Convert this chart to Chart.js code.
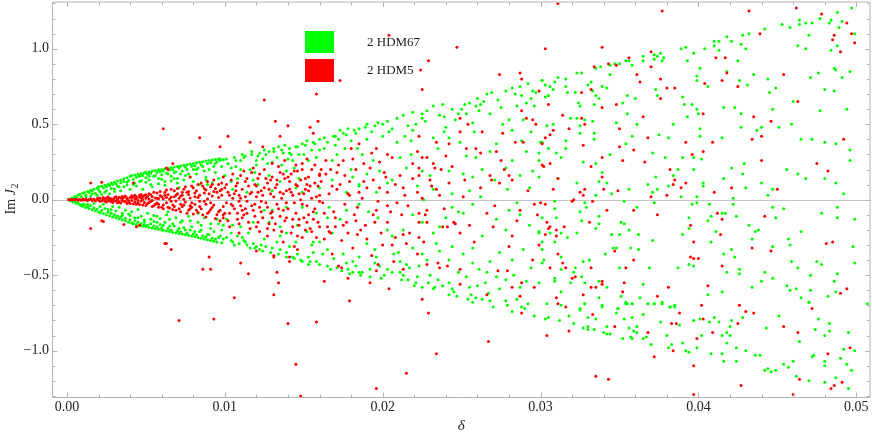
<!DOCTYPE html>
<html><head><meta charset="utf-8">
<script src="https://cdn.jsdelivr.net/npm/chart.js@4.4.0/dist/chart.umd.min.js"></script>
<style>html,body{margin:0;padding:0;background:#fff;}canvas{display:block}</style>
</head><body>
<canvas id="c" width="872" height="436"></canvas>
<script>
const seriesNames = ['2 HDM67', '2 HDM5'];
const xTickValues = [0, 0.01, 0.02, 0.03, 0.04, 0.05];
const xTickLabels = ['0.00', '0.01', '0.02', '0.03', '0.04', '0.05'];
const yTickValues = [-1, -0.5, 0, 0.5, 1];
const yTickLabels = ['\u22121.0', '\u22120.5', '0.0', '0.5', '1.0'];
const xTitle = '\u03b4';
const yTitleParts = ['Im ', 'J', '2'];

// 2 HDM67 (green), delta < 0.01
const greenInner = [
[0.0001,0.003],[0.0002,-0.007],[0.0003,0.012],[0.0003,-0.004],[0.0004,-0.016],[0.0004,0.008],[0.0005,0.021],[0.0005,-0.011],[0.0006,-0.024],[0.0006,0.015],[0.0007,0.029],[0.0007,-0.019],[0.0008,-0.033],[0.0008,0.036],[0.0009,0.022],[0.0009,-0.038],[0.001,0.042],[0.001,-0.028],[0.001,-0.044],
[0.0011,0.047],[0.0011,-0.035],[0.0012,-0.051],[0.0012,0.031],[0.0013,0.055],[0.0013,-0.045],[0.0014,-0.058],[0.0014,0.048],[0.0015,0.062],[0.0015,-0.039],[0.0015,0.025],[0.0016,-0.066],[0.0016,0.057],[0.0017,0.07],[0.0017,-0.054],[0.0018,-0.074],[0.0018,0.042],[0.0019,0.078],[0.0019,-0.062],[0.002,-0.082],[0.002,0.066],[0.002,0.085],
[0.0021,-0.087],[0.0021,0.052],[0.0022,0.089],[0.0022,-0.07],[0.0023,-0.092],[0.0023,0.077],[0.0024,0.095],[0.0024,-0.058],[0.0025,-0.1],[0.0025,0.085],[0.0025,0.06],[0.0026,0.103],[0.0026,-0.083],[0.0027,-0.106],[0.0027,0.094],[0.0028,0.11],[0.0028,-0.09],[0.0028,-0.066],[0.0029,0.1],[0.0029,-0.115],[0.003,0.118],[0.003,-0.1],[0.003,0.072],
[0.0031,-0.12],[0.0031,0.105],[0.0032,0.124],[0.0032,-0.108],[0.0033,-0.127],[0.0033,0.085],[0.0034,0.13],[0.0034,-0.116],[0.0034,0.112],[0.0035,-0.135],[0.0035,-0.09],[0.0036,0.138],[0.0036,0.12],[0.0037,-0.14],[0.0037,-0.123],[0.0038,0.145],[0.0038,0.098],[0.0039,-0.15],[0.0039,0.128],[0.004,0.155],[0.004,-0.133],[0.004,-0.105],
[0.0041,0.16],[0.0041,-0.155],[0.0042,0.135],[0.0042,-0.16],[0.0043,0.163],[0.0043,-0.14],[0.0043,0.11],[0.0044,-0.165],[0.0044,0.148],[0.0045,0.168],[0.0045,-0.15],[0.0045,-0.12],[0.0046,0.155],[0.0046,-0.172],[0.0047,0.172],[0.0047,-0.158],[0.0047,0.125],[0.0048,-0.176],[0.0048,0.16],[0.0049,0.178],[0.0049,-0.165],[0.0049,-0.135],[0.005,0.182],[0.005,-0.18],[0.005,0.145],
[0.0051,-0.17],[0.0051,0.168],[0.0052,0.186],[0.0052,-0.184],[0.0052,0.13],[0.0053,-0.16],[0.0053,0.175],[0.0054,0.19],[0.0054,-0.188],[0.0055,0.155],[0.0055,-0.175],[0.0055,-0.145],[0.0056,0.194],[0.0056,-0.192],[0.0057,0.18],[0.0057,-0.18],[0.0058,0.198],[0.0058,-0.196],[0.0058,0.14],[0.0059,-0.165],[0.0059,0.186],[0.006,0.2],[0.006,-0.2],[0.006,0.165],[0.006,-0.185],
[0.0061,0.19],[0.0061,-0.203],[0.0062,0.205],[0.0062,-0.15],[0.0063,-0.207],[0.0063,0.175],[0.0064,0.208],[0.0064,-0.19],[0.0065,0.196],[0.0065,-0.211],[0.0066,0.212],[0.0066,-0.2],[0.0066,0.155],[0.0067,-0.215],[0.0067,0.2],[0.0068,0.216],[0.0068,-0.175],[0.0069,-0.22],[0.0069,0.185],[0.007,0.22],[0.007,-0.205],[0.007,0.14],
[0.0071,-0.224],[0.0071,0.21],[0.0072,0.224],[0.0072,-0.212],[0.0073,-0.228],[0.0073,0.19],[0.0074,0.228],[0.0074,-0.185],[0.0075,-0.232],[0.0075,0.215],[0.0076,0.232],[0.0076,-0.22],[0.0077,-0.236],[0.0077,0.17],[0.0078,0.236],[0.0078,-0.2],[0.0079,-0.24],[0.0079,0.222],[0.008,0.24],[0.008,-0.228],[0.008,0.2],
[0.0081,-0.245],[0.0081,0.225],[0.0082,0.244],[0.0082,-0.232],[0.0083,-0.25],[0.0083,0.21],[0.0084,0.248],[0.0084,-0.21],[0.0085,-0.255],[0.0085,0.232],[0.0086,0.252],[0.0086,-0.24],[0.0087,-0.26],[0.0087,0.19],[0.0088,0.256],[0.0088,-0.245],[0.0089,-0.265],[0.0089,0.24],[0.009,0.26],[0.009,-0.23],[0.0091,-0.27],[0.0091,0.245],[0.0092,0.263],[0.0092,-0.255],[0.0093,-0.275],[0.0093,0.22],[0.0094,0.266],[0.0094,-0.26],[0.0095,-0.28],[0.0095,0.25],[0.0096,0.27],[0.0096,-0.25],
[0.0053,0.1],[0.0057,-0.11],[0.0062,0.12],[0.0065,-0.13],[0.0068,0.14],[0.0072,-0.15],[0.0075,0.16],[0.0078,-0.14],[0.0082,0.17],[0.0085,-0.17],[0.0088,0.15],[0.0091,-0.19],[0.0094,0.18],[0.0096,-0.16],[0.0064,-0.08],[0.0071,0.08],[0.0083,-0.09],[0.0089,0.1]
];

// 2 HDM67 (green), interior of the cone, delta < 0.01
const greenFill = [
[0.0012,0.02],[0.0013,-0.03],[0.0016,0.04],[0.0017,-0.025],[0.0019,0.03],[0.0021,-0.045],[0.0022,0.035],[0.0023,-0.03],[0.0024,0.05],[0.0026,-0.065],[0.0027,0.04],[0.0028,0.075],[0.0029,-0.045],[0.003,0.055],[0.0031,-0.075],[0.0032,0.09],[0.0033,-0.05],[0.0034,0.06],[0.0035,-0.105],[0.0036,0.085],[0.0037,-0.07],[0.0038,0.115],[0.0039,-0.095],[0.004,0.07],[0.0041,-0.08],[0.0042,0.1],[0.0043,-0.12],[0.0044,0.09],[0.0045,-0.065],[0.0046,0.12],[0.0047,-0.11],[0.0048,0.07],[0.0049,-0.145],[0.005,0.115],[0.0051,-0.09],[0.0052,0.155],[0.0053,-0.13],[0.0054,0.085],[0.0055,-0.105],[0.0056,0.16],[0.0057,-0.15],[0.0058,0.105],[0.0059,-0.125],[0.006,0.135],[0.0061,-0.17],[0.0062,0.095],[0.0063,-0.1],[0.0064,0.17],[0.0065,-0.175],[0.0066,0.125],[0.0067,-0.16],[0.0068,0.18],[0.0069,-0.12],[0.007,0.11],[0.0071,-0.19],[0.0072,0.17],[0.0073,-0.14],[0.0074,0.13],[0.0075,-0.2],[0.0076,0.2],[0.0077,-0.11],[0.0078,0.15],[0.0079,-0.18],[0.008,0.12],[0.0081,-0.21],[0.0082,0.2],[0.0083,-0.15],[0.0084,0.1],[0.0085,-0.2],[0.0086,0.22],[0.0087,-0.12],[0.0088,0.13],[0.0089,-0.23],[0.009,0.2],[0.0091,-0.16],[0.0092,0.11],[0.0093,-0.21],[0.0094,0.24],[0.0095,-0.13],[0.0096,0.14],[0.0097,-0.24],[0.0098,0.22],[0.0099,-0.17],[0.0097,0.27],[0.0098,-0.285],[0.0099,0.265]
];

// 2 HDM67 (green), 0.01 <= delta < 0.03
const greenMid = [
[0.0301,0.79],[0.0287,0.75],[0.0292,0.77],[0.0282,0.74],[0.0278,0.72],[0.0288,0.69],[0.0294,0.67],[0.0291,0.64],[0.0296,0.62],[0.0269,0.71],[0.0266,0.7],[0.026,0.67],[0.0255,0.64],[0.0259,0.62],[0.0261,0.59],[0.0252,0.63],[0.0244,0.6],[0.0248,0.57],[0.0238,0.63],[0.0232,0.62],[0.0228,0.59],[0.0225,0.57],[0.0225,0.54],[0.0219,0.58],[0.0213,0.56],[0.0209,0.54],[0.0203,0.52],[0.0197,0.51],[0.02,0.5],[0.019,0.5],[0.0185,0.47],[0.0178,0.47],[0.0183,0.44],[0.0175,0.44],[0.0173,0.46],[0.0172,0.4],[0.016,0.4],[0.0156,0.38],[0.0152,0.39],[0.0149,0.37],[0.0141,0.34],[0.0134,0.35],[0.0128,0.32],[0.0122,0.31],[0.0117,0.32],[0.0111,0.3],[0.0106,0.28],[0.0101,0.27],[0.0097,0.26],
[0.0209,0.38],[0.0214,0.42],[0.0218,0.39],[0.0232,0.41],[0.0235,0.34],[0.024,0.48],[0.0242,0.41],[0.0249,0.38],[0.0253,0.29],[0.0259,0.28],[0.0268,0.32],[0.0272,0.37],[0.0278,0.21],[0.0282,0.26],[0.0295,0.19],[0.0299,0.26],[0.0288,0.39],[0.0291,0.32],[0.0282,0.46],[0.0289,0.53],[0.028,0.53],[0.0275,0.61],[0.0268,0.57],[0.0257,0.51],[0.0253,0.57],[0.0219,0.46],[0.0211,0.28],[0.0215,0.21],[0.0225,0.19],[0.023,0.16],[0.0242,0.19],[0.0251,0.17],[0.0257,0.15],[0.0263,0.2],[0.0271,0.13],[0.0279,0.07],[0.0287,0.16],[0.0293,0.08],[0.0299,0.15],[0.0255,0.06],[0.0244,0.04],[0.0232,0.07],[0.0222,0.09],[0.0206,0.13],[0.0198,0.19],[0.0194,0.26],[0.0187,0.3],[0.0184,0.34],[0.018,0.39],[0.0176,0.34],[0.0171,0.3],[0.0168,0.26],[0.0163,0.34],[0.0158,0.28],[0.0153,0.26],[0.0147,0.3],[0.0143,0.26],[0.0137,0.31],[0.0133,0.28],[0.0127,0.24],[0.012,0.26],[0.0116,0.2],[0.011,0.26],[0.0104,0.21],[0.01,0.16],[0.0108,0.14],[0.0118,0.13],[0.0128,0.16],[0.0139,0.19],[0.0147,0.14],[0.016,0.08],[0.0168,0.13],[0.0181,0.15],[0.019,0.17],[0.0203,0.11],[0.0196,0.05],[0.0185,0.09],[0.0177,0.05],[0.0149,0.05],[0.013,0.06],[0.0114,0.05],
[0.0125,0.33],[0.0131,0.34],[0.0138,0.36],[0.0145,0.35],[0.0113,0.29],[0.0107,0.22],[0.0124,0.27],[0.0136,0.23],[0.0142,0.3],[0.0119,0.18],[0.0104,0.12],[0.0121,0.1],[0.0135,0.12],[0.0144,0.21],[0.0155,0.33],[0.0165,0.38],[0.0169,0.42],[0.0193,0.45],[0.0206,0.47],[0.0221,0.5],[0.0236,0.56],[0.0246,0.53],[0.0264,0.65],[0.0285,0.62],[0.0297,0.71],
[0.0099,-0.26],[0.0101,-0.25],[0.0105,-0.28],[0.0108,-0.24],[0.0111,-0.25],[0.0113,-0.28],[0.0116,-0.32],[0.012,-0.31],[0.0122,-0.33],[0.0123,-0.3],[0.013,-0.32],[0.0133,-0.28],[0.0139,-0.35],[0.0141,-0.31],[0.0143,-0.38],[0.0149,-0.41],[0.0153,-0.38],[0.0154,-0.41],[0.0158,-0.41],[0.0162,-0.36],[0.0165,-0.44],[0.0171,-0.45],[0.0177,-0.42],[0.0181,-0.41],[0.0178,-0.46],[0.0181,-0.48],[0.0185,-0.48],[0.0187,-0.48],[0.0192,-0.46],[0.0195,-0.42],[0.0198,-0.44],[0.0203,-0.46],[0.0206,-0.48],[0.0211,-0.48],[0.0213,-0.5],[0.0217,-0.45],[0.022,-0.57],[0.0225,-0.58],[0.0229,-0.55],[0.0232,-0.59],[0.0222,-0.51],[0.023,-0.5],[0.0235,-0.53],[0.0242,-0.55],[0.0244,-0.59],[0.0242,-0.63],[0.0247,-0.64],[0.0254,-0.66],[0.0259,-0.65],[0.0263,-0.66],[0.0257,-0.68],[0.027,-0.71],[0.0282,-0.74],[0.0288,-0.71],[0.0292,-0.69],[0.0296,-0.77],[0.0303,-0.79],[0.0278,-0.67],[0.0255,-0.58],[0.026,-0.57],[0.0253,-0.51],[0.0261,-0.46],[0.0266,-0.48],[0.0272,-0.51],[0.0278,-0.53],[0.0274,-0.59],[0.0287,-0.58],[0.0291,-0.54],[0.0299,-0.55],
[0.019,-0.29],[0.0196,-0.38],[0.0211,-0.41],[0.0215,-0.43],[0.021,-0.35],[0.0206,-0.24],[0.0203,-0.2],[0.0197,-0.12],[0.0191,-0.08],[0.0185,-0.03],[0.0177,-0.07],[0.0173,-0.13],[0.0168,-0.22],[0.016,-0.28],[0.0156,-0.28],[0.0152,-0.21],[0.0146,-0.17],[0.0139,-0.22],[0.0135,-0.18],[0.0128,-0.15],[0.0124,-0.12],[0.0118,-0.15],[0.011,-0.18],[0.0101,-0.13],[0.0098,-0.2],[0.0104,-0.22],[0.0166,-0.05],[0.0158,-0.09],[0.0149,-0.05],[0.0139,-0.05],[0.013,-0.07],[0.0219,-0.1],[0.0225,-0.15],[0.0232,-0.22],[0.0234,-0.29],[0.0236,-0.34],[0.0242,-0.4],[0.0225,-0.36],[0.0223,-0.44],[0.0219,-0.32],[0.0213,-0.2],[0.0244,-0.05],[0.0251,-0.09],[0.0257,-0.03],[0.0263,-0.24],[0.0257,-0.32],[0.0251,-0.36],[0.0244,-0.31],[0.0272,-0.13],[0.0278,-0.2],[0.028,-0.07],[0.0287,-0.1],[0.0293,-0.17],[0.0299,-0.22],[0.0301,-0.33],[0.0289,-0.33],[0.0282,-0.4],[0.0274,-0.35],[0.0268,-0.41],[0.0257,-0.42],[0.0294,-0.45],[0.0301,-0.42],[0.024,-0.12],[0.0236,-0.18],
[0.0106,-0.3],[0.0112,-0.27],[0.0118,-0.29],[0.0126,-0.31],[0.0135,-0.33],[0.0146,-0.36],[0.0156,-0.35],[0.0169,-0.39],[0.0183,-0.44],[0.0201,-0.5],[0.0216,-0.53],[0.0238,-0.57],[0.0267,-0.62],[0.0285,-0.66],[0.0305,-0.78],[0.0312,-0.8],[0.0318,-0.77],[0.0321,-0.82]
];

// 2 HDM67 (green), extra points along the cone edges, 0.01 <= delta < 0.03
const greenEdge = [
[0.0102,0.24],[0.0104,-0.27],[0.0107,0.26],[0.0109,-0.29],[0.0112,0.28],[0.0114,-0.3],[0.0117,0.3],[0.0119,-0.32],[0.0121,0.29],[0.0124,-0.34],[0.0126,0.3],[0.0129,-0.35],[0.0131,0.32],[0.0134,-0.36],[0.0136,0.33],[0.0139,-0.38],[0.0141,0.31],[0.0144,-0.39],[0.0146,0.35],[0.0148,-0.4],[0.0151,0.36],[0.0153,-0.43],[0.0157,0.37],[0.016,-0.43],[0.0163,0.41],[0.0167,-0.46],[0.017,0.42],[0.0174,-0.47],[0.0177,0.43],[0.0179,-0.49],[0.0182,0.46],[0.0186,-0.5],[0.0189,0.48],[0.0192,-0.51],[0.0195,0.49],[0.0199,-0.52],
[0.0105,-0.17],[0.011,0.2],[0.0115,-0.22],[0.012,0.23],[0.0125,-0.26],[0.013,0.25],[0.0135,-0.24],[0.014,0.27],[0.0145,-0.28],[0.015,0.3],[0.0155,-0.3],[0.016,0.33],[0.0165,-0.33],[0.017,0.36],[0.0175,-0.36],[0.018,0.2],[0.0185,-0.38],[0.019,0.4],[0.0195,-0.33],[0.02,0.42],[0.0105,0.07],[0.0125,-0.07],[0.0145,0.08],[0.0165,-0.12],[0.0185,0.1],
[0.0204,0.45],[0.0212,-0.53],[0.0216,0.49],[0.0221,-0.55],[0.0227,0.52],[0.0233,-0.58],[0.0239,0.55],[0.0245,-0.61],[0.025,0.6],[0.0256,-0.63],[0.0262,0.63],[0.0268,-0.67],[0.0273,0.66],[0.0279,-0.7],[0.0284,0.7],[0.029,-0.72],[0.0295,0.72],[0.0207,-0.36],[0.0218,0.3],[0.0228,-0.4],[0.0239,0.45],[0.0248,-0.48],[0.0258,0.45],[0.0265,-0.55],[0.0276,0.5],[0.0283,-0.5],[0.0294,0.45],[0.0226,0.0],[0.0248,-0.08],[0.0262,0.02],[0.0285,-0.02]
];

// 2 HDM67 (green), delta >= 0.03
const greenOuter = [
[0.0497,1.27],[0.0499,1.1],[0.0488,1.24],[0.0477,1.2],[0.0484,1.19],[0.0483,1.17],[0.0491,1.18],[0.0489,1.14],[0.0464,1.19],[0.0464,1.16],[0.0468,1.17],[0.0472,1.17],[0.0453,1.16],[0.0458,1.14],[0.047,1.09],[0.0463,1.02],[0.0468,1.0],[0.0484,0.99],[0.0488,1.02],[0.0486,0.87],[0.0487,0.86],[0.0496,0.85],[0.0491,0.81],[0.0476,0.84],[0.0471,0.81],[0.048,0.73],[0.0486,0.72],[0.046,0.65],[0.0477,0.59],[0.0494,0.6],
[0.0432,1.1],[0.0428,1.09],[0.0442,1.13],[0.0418,1.08],[0.0421,1.05],[0.041,1.05],[0.0413,1.05],[0.041,1.02],[0.0427,1.03],[0.043,1.0],[0.0413,0.99],[0.0404,1.0],[0.0397,0.97],[0.0389,1.0],[0.0392,1.01],[0.0393,0.92],[0.0425,0.92],[0.0401,0.87],[0.0418,0.85],[0.0399,0.82],[0.0399,0.79],[0.0406,0.75],[0.0426,0.79],[0.0431,0.76],[0.0435,0.83],[0.0444,0.8],[0.0449,0.74],[0.0445,0.71],
[0.0365,0.95],[0.0372,0.96],[0.0374,0.95],[0.0376,0.97],[0.0378,0.94],[0.0372,0.93],[0.0365,0.92],[0.0377,0.92],[0.0358,0.89],[0.0356,0.92],[0.0354,0.92],[0.035,0.9],[0.0347,0.9],[0.0344,0.89],[0.0335,0.87],[0.0338,0.88],[0.0326,0.84],[0.0323,0.84],[0.0316,0.8],[0.0311,0.81],[0.0309,0.78],[0.0301,0.79],[0.0303,0.76],[0.0306,0.75],[0.0308,0.73],[0.0316,0.75],[0.0322,0.71],[0.033,0.76],[0.0332,0.78],[0.0333,0.72],[0.0335,0.69],[0.0337,0.67],[0.0317,0.71],[0.0303,0.68],[0.0305,0.69],[0.0344,0.83],[0.0339,0.75],[0.0342,0.74],[0.0355,0.69],[0.036,0.67],[0.0352,0.64],[0.0324,0.64],[0.0325,0.62],[0.0334,0.63],
[0.0373,0.73],[0.0374,0.69],[0.0384,0.5],[0.039,0.68],[0.0391,0.63],[0.0396,0.63],[0.0399,0.6],[0.04,0.57],[0.0393,0.55],[0.0355,0.57],[0.0348,0.51],[0.0361,0.5],[0.0358,0.42],[0.0344,0.3],[0.0354,0.37],[0.0371,0.31],[0.0375,0.43],[0.0381,0.41],[0.0379,0.28],[0.039,0.28],[0.0397,0.28],[0.0402,0.27],[0.0401,0.47],[0.0401,0.42],[0.0415,0.41],[0.0416,0.61],[0.0423,0.61],[0.0427,0.57],[0.0427,0.48],[0.0437,0.46],[0.044,0.48],[0.0451,0.48],[0.0459,0.5],[0.0447,0.6],[0.0465,0.4],[0.0472,0.4],[0.048,0.38],[0.0487,0.37],[0.0496,0.33],[0.0496,0.26],[0.0456,0.2],[0.0463,0.17],[0.0468,0.14],[0.048,0.14],[0.0487,0.11],[0.0492,0.04],[0.044,0.11],[0.0447,0.07],[0.0444,0.03],[0.0429,0.24],[0.0428,0.17],[0.0421,0.21],[0.0416,0.14],[0.043,0.08],[0.0422,0.01],[0.0403,0.11],[0.0403,0.09],[0.0397,0.2],[0.0399,0.02],[0.0389,0.02],[0.0387,0.2],[0.0384,0.16],[0.0381,0.09],[0.0373,0.15],[0.0374,0.07],[0.0368,0.1],[0.0371,0.05],[0.0356,0.07],[0.0345,0.04],[0.0335,0.03],[0.0337,0.12],[0.0342,0.11],[0.0339,0.18],[0.0335,0.24],[0.0327,0.25],[0.0323,0.11],[0.0311,0.14],[0.0313,0.28],[0.031,0.31],[0.0308,0.5],[0.0304,0.49],[0.03,0.38],[0.0301,0.38],[0.0299,0.31],[0.0305,0.34],[0.0316,0.39],[0.0316,0.34],[0.0319,0.54],[0.0325,0.49],[0.0323,0.54],[0.0325,0.44],[0.0328,0.53],[0.0333,0.52],[0.0334,0.44],[0.0334,0.4],
[0.0309,-0.01],[0.0328,-0.02],[0.0329,-0.05],[0.0325,-0.08],[0.0309,-0.06],[0.0301,-0.12],[0.031,-0.12],[0.0326,-0.14],[0.0337,-0.11],[0.0337,-0.16],[0.0335,-0.19],[0.0323,-0.22],[0.0317,-0.25],[0.0313,-0.22],[0.0306,-0.22],[0.0299,-0.21],[0.0301,-0.28],[0.0309,-0.28],[0.0302,-0.4],[0.0313,-0.38],[0.0313,-0.46],[0.0321,-0.48],[0.0322,-0.45],[0.0327,-0.41],[0.0331,-0.4],[0.0326,-0.51],[0.0319,-0.55],[0.0309,-0.52],[0.0309,-0.54],[0.0313,-0.61],[0.0304,-0.69],[0.0313,-0.7],[0.0328,-0.55],[0.0328,-0.69],[0.0325,-0.72],[0.0337,-0.54],[0.0337,-0.65],[0.0342,-0.58],[0.0339,-0.7],[0.0341,-0.36],[0.0345,-0.23],[0.035,-0.23],[0.0351,-0.15],[0.0353,-0.16],[0.0356,-0.2],[0.0353,-0.01],[0.0361,-0.05],[0.0362,-0.23],[0.0357,-0.32],[0.0362,-0.33],[0.0346,-0.32],[0.0348,-0.32],[0.035,-0.45],[0.0369,-0.45],[0.0365,-0.56],[0.0351,-0.64],[0.0349,-0.72],[0.0354,-0.69],[0.0358,-0.69],[0.0363,-0.65],[0.0368,-0.69],[0.0372,-0.69],[0.0377,-0.69],[0.0382,-0.71],[0.0385,-0.71],[0.0371,-0.27],[0.0372,-0.02],[0.039,-0.23],[0.0394,-0.19],[0.0394,-0.12],[0.0396,-0.03],[0.0399,-0.02],[0.0407,-0.03],[0.0408,-0.11],[0.0406,-0.14],[0.0415,-0.09],[0.0417,-0.09],[0.0411,-0.21],[0.0408,-0.28],[0.0394,-0.43],[0.0397,-0.44],[0.0387,-0.45],[0.0416,-0.36],[0.0423,-0.38],[0.0421,-0.33],[0.0418,-0.48],[0.0426,-0.46],[0.0426,-0.49],[0.0415,-0.61],[0.0406,-0.63],[0.0424,-0.11],[0.0422,-0.03],[0.0432,-0.17],[0.0436,-0.21],[0.0438,-0.2],[0.0434,-0.26],[0.0447,-0.31],[0.0447,-0.05],[0.0449,-0.12],[0.0454,-0.06],[0.0457,-0.26],[0.0458,-0.3],[0.0434,-0.58],[0.044,-0.54],[0.0442,-0.48],[0.0447,-0.52],[0.0456,-0.57],[0.0458,-0.6],[0.0462,-0.59],[0.0459,-0.41],[0.0463,-0.45],[0.0465,-0.21],[0.0471,-0.5],[0.0471,-0.6],[0.0465,-0.65],[0.047,-0.68],[0.0475,-0.41],[0.0478,-0.43],[0.0478,-0.09],[0.0488,-0.05],[0.0488,-0.12],[0.0499,-0.13],[0.0498,-0.31],[0.0499,-0.42],[0.0488,-0.49],[0.0486,-0.54],[0.0487,-0.61],[0.0482,-0.64],[0.0507,-0.69],
[0.0325,-0.73],[0.0328,-0.69],[0.0339,-0.71],[0.033,-0.78],[0.0327,-0.85],[0.033,-0.84],[0.033,-0.86],[0.0334,-0.86],[0.0335,-0.79],[0.034,-0.88],[0.0342,-0.89],[0.0344,-0.89],[0.0342,-0.84],[0.0348,-0.75],[0.0349,-0.72],[0.0352,-0.92],[0.0353,-0.79],[0.0354,-0.68],[0.0355,-0.69],[0.0356,-0.85],[0.0357,-0.91],[0.0358,-0.92],[0.0358,-0.69],[0.0358,-0.78],[0.0359,-0.87],[0.0361,-0.84],[0.0361,-0.88],[0.0365,-0.76],[0.0365,-0.92],[0.0367,-0.91],[0.0368,-0.69],[0.037,-0.96],[0.0372,-0.69],[0.0376,-0.81],[0.0377,-0.68],[0.038,-0.9],[0.0381,-0.98],[0.0382,-0.71],[0.0383,-0.96],[0.0385,-0.7],[0.0388,-0.83],[0.039,-0.95],[0.0392,-1.0],[0.0394,-1.01],[0.0397,-0.8],[0.0399,-0.98],[0.0401,-0.79],[0.0402,-0.9],[0.0407,-0.81],[0.0408,-1.02],[0.041,-0.78],[0.0413,-0.81],[0.0415,-0.9],[0.0415,-1.02],[0.0416,-1.07],[0.0418,-0.95],[0.0418,-0.88],[0.042,-0.9],[0.042,-0.84],[0.0421,-0.8],[0.0424,-0.98],[0.0424,-1.07],[0.0428,-0.78],[0.043,-1.0],[0.0436,-1.03],[0.0439,-1.03],[0.0442,-1.13],[0.0444,-1.12],[0.0446,-1.14],[0.0443,-0.85],[0.0449,-1.13],[0.0451,-0.77],[0.0454,-1.09],[0.0457,-1.11],[0.046,-1.07],[0.0462,-1.17],[0.0464,-0.94],[0.047,-1.2],[0.047,-0.68],[0.0472,-1.04],[0.0473,-1.03],[0.0474,-0.86],[0.0476,-0.79],[0.048,-0.9],[0.048,-1.07],[0.048,-1.1],[0.048,-1.21],[0.0483,-0.82],[0.0483,-0.87],[0.0487,-1.18],[0.049,-1.05],[0.0492,-0.99],[0.0494,-1.09],[0.0495,-1.25],[0.0495,-0.88],[0.0497,-1.13],[0.0499,-1.0]
];

// 2 HDM5 (red), delta < 0.01
const redCore = [
[0.0001,0.0],[0.0002,0.001],[0.0003,-0.002],[0.0004,0.002],[0.0005,-0.001],[0.0006,0.003],[0.0007,-0.004],[0.0008,0.002],[0.0009,-0.003],[0.001,0.005],[0.0011,-0.002],[0.0012,0.004],[0.0013,-0.006],[0.0014,0.001],[0.0015,0.006],[0.0016,-0.005],[0.0017,0.003],[0.0018,-0.008],[0.0019,0.007],[0.002,-0.003],[0.0021,0.009],[0.0022,-0.007],[0.0023,0.004],[0.0024,-0.01],[0.0025,0.011],[0.0026,-0.004],[0.0027,0.008],[0.0028,-0.012],[0.0029,0.002],[0.003,0.013],[0.0031,-0.009],[0.0032,0.006],[0.0033,-0.014],[0.0034,0.012],[0.0035,-0.003],[0.0036,0.016],[0.0037,-0.012],[0.0038,0.005],[0.0039,-0.017],[0.004,0.014],[0.0041,-0.006],[0.0042,0.019],[0.0043,-0.016],[0.0044,0.008],[0.0045,-0.02],[0.0046,0.017],[0.0047,-0.009],[0.0048,0.022],[0.0049,-0.019],[0.005,0.01],
[0.0032,-0.02],[0.0035,0.022],[0.0038,-0.025],[0.0041,0.026],[0.0044,-0.03],[0.0046,0.03],[0.0048,-0.035],[0.005,0.033],[0.0051,-0.025],[0.0052,0.04],[0.0053,-0.012],[0.0054,0.02],[0.0055,-0.04],[0.0056,0.012],[0.0057,0.045],[0.0058,-0.03],[0.0059,0.028],[0.006,-0.05],[0.0061,0.006],[0.0062,0.05],[0.0063,-0.02],[0.0064,0.035],[0.0065,-0.055],[0.0066,0.018],[0.0067,-0.035],[0.0068,0.06],[0.0069,-0.008],[0.007,0.04],[0.0071,-0.06],[0.0072,0.025],[0.0073,-0.045],[0.0074,0.07],[0.0075,-0.015],[0.0076,0.05],[0.0077,-0.07],[0.0078,0.012],[0.0079,-0.05],[0.008,0.08],[0.0081,-0.03],[0.0082,0.06],[0.0083,-0.085],[0.0084,0.03],[0.0085,-0.06],[0.0086,0.09],[0.0087,-0.01],[0.0088,0.065],[0.0089,-0.09],[0.009,0.04],[0.0091,-0.065],[0.0092,0.1],[0.0093,-0.035],[0.0094,0.075],[0.0095,-0.1],[0.0096,0.015],[0.0097,-0.07],[0.0098,0.11],[0.0099,-0.045],[0.01,0.08],
[0.0054,-0.005],[0.0058,0.008],[0.0061,-0.035],[0.0066,-0.01],[0.0069,0.03],[0.0072,-0.03],[0.0074,0.003],[0.0077,0.035],[0.0079,-0.02],[0.0081,0.02],[0.0084,-0.045],[0.0087,0.045],[0.0089,0.005],[0.0091,-0.02],[0.0093,0.055],[0.0096,-0.08],[0.0098,0.03],[0.0099,-0.12],[0.0043,0.004],[0.0047,0.012],[0.0052,-0.018],[0.0057,-0.022],[0.0063,0.015],[0.0068,-0.045],[0.0073,0.05],[0.0078,-0.06],[0.0083,0.015],[0.0088,-0.03],[0.0092,0.025],[0.0097,0.06],
[0.0015,0.11],[0.0022,0.115],[0.0061,0.47],[0.0084,0.41],[0.0064,0.2],[0.0067,0.24],[0.0063,0.21],[0.0078,0.15],[0.0042,0.11],[0.0015,-0.19],[0.0023,-0.145],[0.0022,-0.14],[0.0036,-0.165],[0.0044,-0.18],[0.0046,-0.17],[0.0062,-0.29],[0.0063,-0.29],[0.0066,-0.33],[0.0071,-0.8],[0.0086,-0.46],[0.009,-0.38],[0.0091,-0.46],[0.0093,-0.79],[0.0097,0.35]
];

// 2 HDM5 (red), extra density in the band, delta <= 0.01
const redFill = [
[0.002,0.012],[0.0021,-0.011],[0.0023,0.015],[0.0024,0.003],[0.0025,-0.015],[0.0026,0.018],[0.0027,-0.008],[0.0028,0.006],[0.0029,-0.018],[0.003,-0.005],[0.0031,0.02],[0.0032,-0.001],[0.0033,0.017],[0.0034,-0.022],[0.0035,0.008],[0.0036,-0.01],[0.0037,0.024],[0.0038,0.012],[0.0039,-0.006],[0.004,-0.025],[0.0041,0.015],[0.0042,-0.028],[0.0043,0.03],[0.0044,0.018],[0.0045,-0.005],[0.0046,-0.032],[0.0047,0.035],[0.0048,0.002],[0.0049,0.028],[0.005,-0.038],[0.0051,0.022],[0.0052,0.004],[0.0053,0.032],[0.0054,-0.045],[0.0055,0.05],[0.0056,-0.03],[0.0057,0.01],[0.0058,-0.05],[0.0059,0.055],[0.006,0.02],[0.0061,-0.06],[0.0062,0.03],[0.0063,0.065],[0.0064,-0.05],[0.0065,0.005],[0.0066,0.07],[0.0067,-0.065],[0.0068,0.02],[0.0069,-0.07],[0.007,0.075],[0.0071,0.01],[0.0072,-0.08],[0.0073,0.03],[0.0074,-0.035],[0.0075,0.085],[0.0076,-0.09],[0.0077,0.055],[0.0078,-0.04],[0.0079,0.09],[0.008,-0.095],[0.0081,0.045],[0.0082,-0.07],[0.0083,0.1],[0.0084,-0.01],[0.0085,0.11],[0.0086,-0.1],[0.0087,0.075],[0.0088,-0.115],[0.0089,0.12],[0.009,-0.08],[0.0091,0.085],[0.0092,-0.05],[0.0093,0.13],[0.0094,-0.125],[0.0095,0.05],[0.0096,0.1],[0.0097,-0.14],[0.0098,0.07],[0.0099,0.15],[0.01,-0.09]
];

// 2 HDM5 (red), 0.01 <= delta < 0.03
const redMid = [
[0.0101,-0.02],[0.0102,0.05],[0.0103,-0.09],[0.0104,0.13],[0.0105,0.01],[0.0106,-0.06],[0.0107,0.09],[0.0108,-0.13],[0.0109,0.03],[0.011,0.16],[0.011,-0.04],[0.0111,0.07],[0.0112,-0.1],[0.0113,0.12],[0.0114,-0.01],[0.0115,-0.15],[0.0116,0.04],[0.0117,0.18],[0.0118,-0.07],[0.0119,0.1],[0.012,-0.18],[0.012,0.02],[0.0121,0.14],[0.0122,-0.05],[0.0123,0.06],[0.0124,-0.12],[0.0125,0.2],[0.0126,-0.02],[0.0127,0.11],[0.0128,-0.16],[0.0129,0.04],[0.013,0.15],[0.013,-0.08],[0.0131,-0.2],[0.0132,0.08],[0.0133,-0.03],[0.0134,0.22],[0.0135,-0.11],[0.0136,0.01],[0.0137,0.17],[0.0138,-0.14],[0.0139,0.06],[0.014,-0.06],[0.0141,0.12],[0.0142,-0.22],[0.0143,0.03],[0.0144,0.19],[0.0145,-0.09],[0.0146,0.09],[0.0147,-0.17],[0.0148,0.0],[0.0149,0.24],[0.015,-0.12],[0.0151,0.14],[0.0152,-0.04],[0.0153,0.06],[0.0154,-0.19],[0.0155,0.2],[0.0156,-0.08],[0.0157,0.11],[0.0158,0.02],[0.0159,-0.15],[0.016,0.17],
[0.0103,0.03],[0.0105,-0.04],[0.0107,0.06],[0.0109,-0.01],[0.0111,-0.07],[0.0113,0.02],[0.0115,0.09],[0.0117,-0.04],[0.0119,-0.11],[0.0121,0.05],[0.0123,-0.08],[0.0125,0.08],[0.0127,-0.05],[0.0129,0.13],[0.0131,0.02],[0.0133,0.1],[0.0135,0.05],[0.0137,-0.07],[0.0139,-0.02],[0.0141,0.07],[0.0143,-0.13],[0.0145,0.1],[0.0147,0.04],[0.0149,-0.03],[0.0151,0.07],[0.0153,-0.1],[0.0155,0.01],[0.0157,-0.06],[0.0159,0.09],
[0.0099,-0.1],[0.0108,-0.09],[0.0114,-0.09],[0.0103,-0.18],[0.0109,-0.22],[0.0122,-0.21],[0.0127,-0.24],[0.0137,-0.28],[0.0141,-0.38],[0.0131,-0.38],[0.0144,-0.31],[0.0146,-0.33],[0.0141,-0.41],[0.013,-0.12],[0.0147,-0.13],[0.0152,-0.15],[0.0149,-0.25],[0.016,-0.18],[0.0165,-0.18],[0.017,-0.18],[0.0167,-0.22],[0.0163,-0.26],[0.0155,-0.21],[0.0175,-0.17],[0.0178,-0.22],[0.0168,-0.36],[0.0172,-0.44],[0.0174,-0.45],[0.0184,-0.23],[0.0184,-0.05],[0.0182,-0.1],[0.0194,-0.1],[0.0196,-0.07],[0.0199,-0.22],[0.0197,-0.43],[0.0196,-0.47],[0.0193,-0.37],[0.0203,-0.04],[0.0209,-0.02],[0.0212,-0.1],[0.0223,-0.09],[0.0228,-0.07],[0.0227,-0.1],[0.0223,-0.15],[0.0228,-0.15],[0.0213,-0.23],[0.0217,-0.22],[0.0208,-0.25],[0.0206,-0.3],[0.0222,-0.36],[0.0223,-0.25],[0.0228,-0.43],[0.0235,-0.42],[0.0236,-0.45],[0.0238,-0.18],[0.0241,-0.18],[0.0245,-0.15],[0.0246,-0.16],[0.0249,-0.22],[0.0255,-0.17],[0.0266,-0.09],[0.027,-0.18],[0.028,-0.31],[0.0282,-0.24],[0.0287,-0.07],[0.0295,-0.4],[0.0296,-0.03],[0.0306,-0.18],[0.0279,-0.47],[0.0273,-0.47],[0.0249,-0.46],[0.0241,-0.44],[0.0288,-0.55],[0.0296,-0.58],[0.0282,-0.58],[0.0266,-0.63],[0.0287,-0.64],[0.0213,-0.46],[0.0207,-0.41],[0.0215,-0.29],[0.0203,-0.15],
[0.011,-0.42],[0.0115,-0.49],[0.0106,-0.65],[0.0131,-0.63],[0.0133,-0.48],[0.0134,-0.55],[0.014,-0.82],[0.0145,-1.09],[0.0131,-0.37],[0.012,-0.34],[0.0163,-0.54],[0.0179,-0.67],[0.0178,-0.52],[0.0192,-0.55],[0.0204,-0.59],[0.0225,-0.66],[0.0229,-0.75],[0.0267,-0.94],[0.0249,-0.56],[0.0288,-0.75],[0.0196,-1.25],[0.0215,-1.15],[0.0234,-1.02],[0.0148,-1.3],[0.0158,-0.81],
[0.0102,0.42],[0.0116,0.38],[0.0125,0.66],[0.0132,0.52],[0.014,0.49],[0.0135,0.42],[0.0124,0.35],[0.0204,1.09],[0.0247,1.01],[0.0229,0.92],[0.0224,0.86],[0.0173,0.79],[0.0158,0.7],[0.0225,0.73],[0.0274,0.83],[0.0287,0.84],[0.0288,0.8],[0.0299,0.72],[0.0159,0.52],[0.0154,0.48],[0.0156,0.44],
[0.0249,0.54],[0.0254,0.5],[0.0249,0.45],[0.0263,0.45],[0.0276,0.44],[0.0284,0.38],[0.0288,0.59],[0.0291,0.54],[0.0295,0.53],[0.0297,0.5],[0.0223,0.42],[0.0234,0.38],[0.0222,0.32],[0.0242,0.37],[0.0253,0.34],[0.0259,0.34],[0.0262,0.31],[0.0275,0.26],[0.0272,0.32],[0.0289,0.38],[0.0301,0.37],[0.0301,0.23],[0.0225,0.28],[0.0228,0.28],[0.0232,0.24],[0.024,0.29],[0.0223,0.21],[0.0233,0.21],[0.0237,0.2],[0.0242,0.11],[0.0252,0.13],[0.0268,0.16],[0.0269,0.13],[0.0282,0.13],[0.0274,0.11],[0.028,0.16],[0.0219,0.14],[0.0211,0.16],[0.0223,0.16],[0.023,0.13],[0.0234,0.07],[0.0236,0.03],[0.0225,0.01],[0.0198,0.08],[0.0203,0.05],[0.0206,0.28],[0.0203,0.3],[0.0196,0.34],[0.0185,0.37],[0.0188,0.24],[0.0181,0.27],[0.018,0.34],[0.0175,0.26],[0.0171,0.18],[0.0167,0.2],[0.0161,0.2],[0.016,0.16],[0.0164,0.17],[0.0153,0.15],[0.0149,0.2],[0.0146,0.19],[0.0142,0.17],[0.0138,0.14],[0.0152,0.1],[0.0171,0.07],[0.016,0.03],[0.0178,0.04],[0.0185,0.05],[0.019,0.08],[0.0194,0.13],[0.0213,0.08],[0.0214,0.03],[0.0222,0.05],
[0.0162,-0.02],[0.0166,0.04],[0.0169,-0.08],[0.0173,0.1],[0.0176,-0.03],[0.0179,0.12],[0.0183,-0.14],[0.0187,0.01],[0.0189,-0.17],[0.0192,0.21],[0.0197,-0.01],[0.0201,0.18],[0.0205,-0.08],[0.0208,0.1],[0.0216,-0.04],[0.0219,0.24],[0.0226,-0.28],[0.0231,0.09],[0.0239,-0.06],[0.0244,0.22],[0.0251,0.02],[0.0258,-0.28],[0.0262,0.08],[0.0271,-0.04],[0.0277,0.2],[0.0285,-0.14],[0.0292,0.06],[0.0298,-0.1]
];

// 2 HDM5 (red), extra density, 0.01 <= delta <= 0.02
const redMidFill = [
[0.0101,0.1],[0.0102,-0.14],[0.0104,-0.03],[0.0105,0.17],[0.0106,0.04],[0.0108,0.11],[0.0109,-0.16],[0.011,0.01],[0.0111,-0.12],[0.0112,0.19],[0.0113,-0.06],[0.0114,0.14],[0.0116,-0.19],[0.0117,0.05],[0.0118,0.21],[0.0119,-0.03],[0.012,0.09],[0.0121,-0.15],[0.0122,0.17],[0.0123,-0.01],[0.0124,0.03],[0.0126,0.14],[0.0127,-0.19],[0.0128,0.07],[0.0129,-0.09],[0.013,0.24],[0.0132,-0.16],[0.0133,0.13],[0.0134,-0.06],[0.0135,0.18],[0.0136,-0.21],[0.0137,0.04],[0.0138,0.26],[0.0139,-0.12],[0.014,0.15],[0.0142,0.05],[0.0143,-0.18],[0.0144,-0.02],[0.0145,0.23],[0.0146,-0.24],[0.0148,0.13],[0.015,0.04],[0.0151,-0.2],[0.0152,0.27],[0.0154,0.09],[0.0156,-0.13],[0.0157,0.23],[0.0158,-0.25],[0.016,-0.01],[0.0161,0.12],[0.0163,-0.09],[0.0164,0.26],[0.0166,-0.21],[0.0168,0.09],[0.017,-0.12],[0.0172,0.23],[0.0174,-0.27],[0.0176,0.16],[0.0177,-0.15],[0.0179,0.03],[0.0181,-0.32],[0.0183,0.2],[0.0186,-0.2],[0.0188,0.12],[0.019,-0.26],[0.0193,0.31],[0.0195,-0.15],[0.0198,0.25],[0.02,-0.3],[0.0202,0.15]
];

// 2 HDM5 (red), delta >= 0.03
const redOuter = [
[0.0311,1.3],[0.0377,1.25],[0.0432,1.25],[0.0462,1.27],[0.0478,1.23],[0.0494,1.17],[0.0439,1.1],[0.0486,1.09],[0.0485,1.06],[0.0497,1.1],[0.0499,1.04],[0.049,0.98],[0.0303,1.0],[0.0339,1.01],[0.037,0.98],[0.0411,0.94],[0.0417,0.94],[0.0356,0.94],[0.0334,0.88],[0.0343,0.9],[0.0348,0.89],[0.037,0.88],[0.0361,0.83],[0.0363,0.78],[0.0376,0.8],[0.038,0.74],[0.0385,0.74],[0.0418,0.84],[0.0415,0.79],[0.0404,0.77],[0.0425,0.75],[0.0454,0.83],[0.0463,0.65],[0.0305,0.63],[0.0326,0.71],[0.0332,0.73],[0.0339,0.61],[0.0348,0.63],[0.0376,0.67],[0.0365,0.55],[0.0314,0.56],[0.0318,0.47],[0.0308,0.46],[0.0306,0.43],[0.0303,0.41],[0.0326,0.54],[0.0328,0.5],[0.035,0.47],[0.0368,0.41],[0.0359,0.33],[0.0327,0.36],[0.035,0.35],[0.0339,0.28],[0.0352,0.26],[0.0332,0.22],[0.0302,0.22],[0.0306,0.24],[0.0311,0.14],[0.0339,0.15],[0.0328,0.07],[0.0325,0.05],[0.0327,0.03],[0.0308,0.07],[0.034,0.07],[0.0349,0.06],[0.0366,0.25],[0.037,0.02],[0.038,0.03],[0.0382,0.2],[0.0385,0.13],[0.0384,0.1],[0.0389,0.08],[0.0392,0.11],[0.0396,0.3],[0.0403,0.32],[0.0392,0.38],[0.0409,0.38],[0.0403,0.57],[0.041,0.05],[0.0421,0.08],[0.0434,0.4],[0.0435,0.55],[0.044,0.42],[0.0446,0.52],[0.044,0.26],[0.045,0.07],[0.0475,0.24],[0.0482,0.19],[0.0492,0.4],[0.0321,0.0],
[0.03,-0.02],[0.0303,-0.03],[0.032,-0.01],[0.0333,-0.01],[0.0342,-0.07],[0.0359,-0.07],[0.0374,-0.1],[0.0331,-0.15],[0.0304,-0.15],[0.0305,-0.19],[0.0315,-0.18],[0.031,-0.2],[0.0303,-0.23],[0.031,-0.24],[0.0299,-0.3],[0.0311,-0.36],[0.0314,-0.42],[0.0306,-0.45],[0.0316,-0.45],[0.032,-0.52],[0.0322,-0.51],[0.031,-0.65],[0.0311,-0.69],[0.0316,-0.71],[0.0327,-0.63],[0.0332,-0.58],[0.0335,-0.58],[0.0339,-0.54],[0.0339,-0.56],[0.0332,-0.45],[0.0347,-0.34],[0.0354,-0.45],[0.0353,-0.55],[0.0352,-0.61],[0.0359,-0.4],[0.0374,-0.64],[0.0381,-0.58],[0.0397,-0.28],[0.0395,-0.38],[0.0397,-0.39],[0.04,-0.39],[0.0395,-0.17],[0.0414,-0.23],[0.0415,-0.13],[0.0412,-0.09],[0.0415,-0.44],[0.0406,-0.57],[0.0402,-0.7],[0.0426,-0.7],[0.0434,-0.32],[0.0446,-0.34],[0.0442,-0.11],[0.0481,-0.29],[0.0485,-0.28],[0.0494,-0.59],[0.049,-0.62],[0.0472,-0.72],
[0.0335,-1.17],[0.0343,-1.19],[0.0333,-0.76],[0.0347,-0.84],[0.0368,-0.88],[0.0372,-1.04],[0.0388,-0.75],[0.0383,-0.82],[0.0386,-0.82],[0.0384,-1.0],[0.0397,-1.1],[0.0397,-1.29],[0.0399,-0.92],[0.0403,-0.79],[0.0409,-0.88],[0.0425,-0.82],[0.043,-0.74],[0.0435,-0.75],[0.0427,-1.23],[0.0454,-0.84],[0.0463,-0.88],[0.0464,-1.19],[0.046,-1.29],[0.0482,-1.02],[0.0484,-1.25],[0.0486,-1.23],[0.0491,-1.21],[0.0496,-0.98],[0.0304,-0.9],[0.0318,-0.87]
];

const toPoints = arr => arr.map(p => ({x: p[0], y: p[1]}));
const SERIF = '"Liberation Serif", "Times New Roman", serif';

const framePlugin = {
  id: 'mmaFrame',
  beforeDatasetsDraw(chart) {
    const {ctx, chartArea: a, scales: {y}} = chart;
    const y0 = Math.round(y.getPixelForValue(0)) + 0.5;
    ctx.save();
    ctx.strokeStyle = '#c4c4c4';
    ctx.lineWidth = 1;
    ctx.beginPath(); ctx.moveTo(a.left, y0); ctx.lineTo(a.right, y0); ctx.stroke();
    ctx.restore();
  },
  afterDraw(chart) {
    const {ctx, chartArea: a, scales: {x, y}} = chart;
    ctx.save();
    ctx.strokeStyle = '#b4b4b4';
    ctx.lineWidth = 1;
    const L = a.left + 0.5, R = a.right - 0.5, T = a.top + 0.5, B = a.bottom + 0.5;
    ctx.beginPath();
    ctx.moveTo(L, T); ctx.lineTo(L, B); ctx.lineTo(R, B); ctx.lineTo(R, T); ctx.lineTo(L, T);
    ctx.stroke();
    ctx.beginPath();
    for (let i = 0; i <= 25; i++) {
      const v = i * 0.002;
      const px = Math.round(x.getPixelForValue(v)) + 0.5;
      const len = (i % 5 === 0) ? 5 : 3;
      ctx.moveTo(px, B); ctx.lineTo(px, B - len);
      ctx.moveTo(px, T); ctx.lineTo(px, T + len);
    }
    for (let i = -13; i <= 13; i++) {
      const v = i / 10;
      const py = Math.round(y.getPixelForValue(v)) + 0.5;
      const len = (i % 5 === 0) ? 5 : 3;
      ctx.moveTo(L, py); ctx.lineTo(L + len, py);
      ctx.moveTo(R, py); ctx.lineTo(R - len, py);
    }
    ctx.stroke();

    ctx.fillStyle = '#222';
    ctx.font = 'italic 15px ' + SERIF;
    ctx.textAlign = 'center';
    ctx.textBaseline = 'middle';
    ctx.fillText(xTitle, (a.left + a.right) / 2, 426);

    ctx.save();
    ctx.translate(11, (a.top + a.bottom) / 2);
    ctx.rotate(-Math.PI / 2);
    ctx.textAlign = 'left';
    ctx.textBaseline = 'middle';
    const f1 = '14px ' + SERIF, f2 = 'italic 14px ' + SERIF, f3 = '10px ' + SERIF;
    ctx.font = f1; const w1 = ctx.measureText(yTitleParts[0]).width;
    ctx.font = f2; const w2 = ctx.measureText(yTitleParts[1]).width;
    ctx.font = f3; const w3 = ctx.measureText(yTitleParts[2]).width;
    let sx = -(w1 + w2 + w3) / 2;
    ctx.font = f1; ctx.fillText(yTitleParts[0], sx, 0); sx += w1;
    ctx.font = f2; ctx.fillText(yTitleParts[1], sx, 0); sx += w2 + 0.5;
    ctx.font = f3; ctx.fillText(yTitleParts[2], sx, 4);
    ctx.restore();

    ctx.fillStyle = '#00ff00';
    ctx.fillRect(305, 31, 29, 22);
    ctx.fillStyle = '#ff0000';
    ctx.fillRect(305, 59, 29, 23);
    ctx.fillStyle = '#222';
    ctx.font = '13px ' + SERIF;
    ctx.textAlign = 'left';
    ctx.textBaseline = 'middle';
    ctx.fillText(seriesNames[0], 367, 43);
    ctx.fillText(seriesNames[1], 367, 71);
    ctx.restore();
  }
};

new Chart(document.getElementById('c'), {
  type: 'scatter',
  data: {
    datasets: [
      {label: seriesNames[1], data: toPoints([...redCore, ...redFill, ...redMid, ...redMidFill, ...redOuter]), backgroundColor: '#ff0000', order: 0},
      {label: seriesNames[0], data: toPoints([...greenInner, ...greenFill, ...greenMid, ...greenEdge, ...greenOuter]), backgroundColor: '#00ff00', order: 1}
    ]
  },
  options: {
    responsive: false,
    animation: false,
    devicePixelRatio: 1,
    events: [],
    layout: {padding: {top: 0, right: 1, bottom: 0, left: 0}},
    elements: {point: {radius: 1.5, hoverRadius: 1.5, borderWidth: 0, pointStyle: 'circle'}},
    plugins: {legend: {display: false}, tooltip: {enabled: false}},
    scales: {
      x: {
        type: 'linear', position: 'bottom', min: -0.00095, max: 0.0509,
        grid: {display: false, drawTicks: false, tickLength: 0},
        border: {display: false},
        afterBuildTicks: s => { s.ticks = xTickValues.map(v => ({value: v})); },
        afterFit: s => { s.height = 39; s.paddingLeft = 0; s.paddingRight = 0; },
        ticks: {autoSkip: false, maxRotation: 0, padding: 2, color: '#222',
          font: {family: SERIF, size: 14},
          callback: (v, i) => xTickLabels[i]}
      },
      y: {
        type: 'linear', position: 'left', min: -1.307, max: 1.313,
        grid: {display: false, drawTicks: false, tickLength: 0},
        border: {display: false},
        afterBuildTicks: s => { s.ticks = yTickValues.map(v => ({value: v})); },
        afterFit: s => { s.width = 52; s.paddingTop = 0; s.paddingBottom = 0; },
        ticks: {autoSkip: false, padding: 3, color: '#222',
          font: {family: SERIF, size: 14},
          callback: (v, i) => yTickLabels[i]}
      }
    }
  },
  plugins: [framePlugin]
});
</script>
</body></html>
